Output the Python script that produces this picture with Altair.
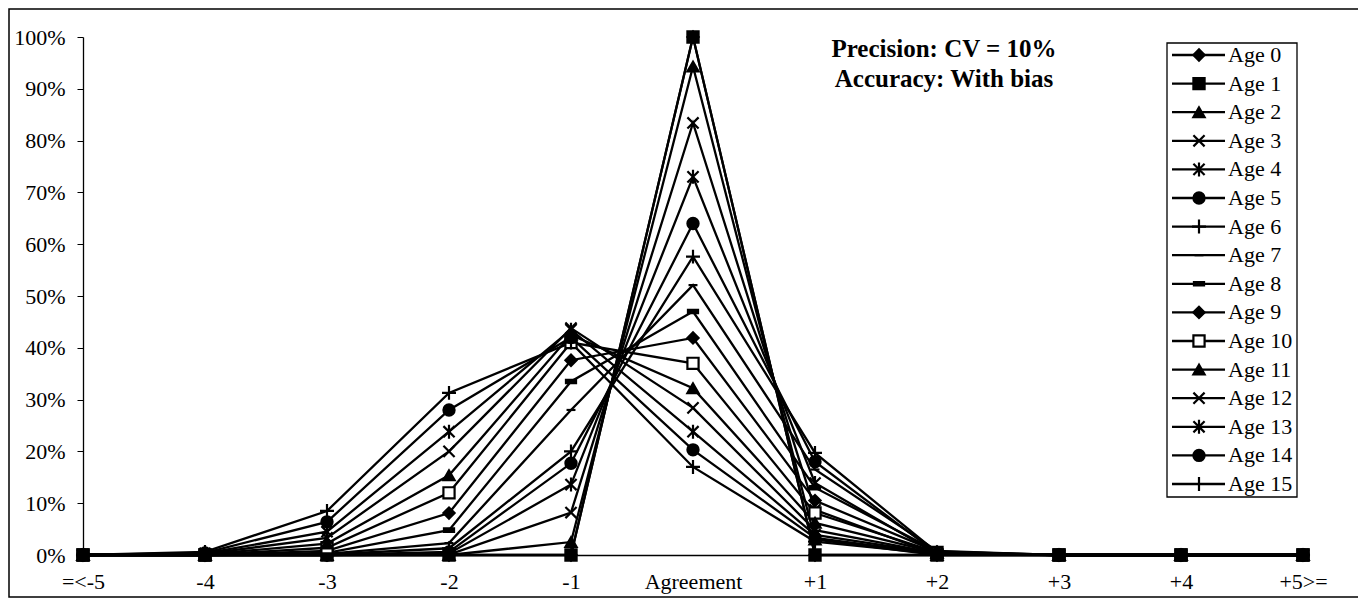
import altair as alt
import pandas as pd

categories = ["=<-5", "-4", "-3", "-2", "-1", "Agreement", "+1", "+2", "+3", "+4", "+5>="]
ages = [f"Age {i}" for i in range(16)]

age0 = [0, 0, 0, 0, 0, 100, 0, 0, 0, 0, 0]
age1 = [0, 0, 0, 0, 0, 100, 0, 0, 0, 0, 0]
age2 = [0, 0, 0, 0, 2.5, 94.3, 3.0, 0, 0, 0, 0]
age3 = [0, 0, 0, 0.1, 8.2, 83.4, 8.7, 0.1, 0, 0, 0]
age4 = [0, 0, 0, 0.3, 13.6, 73.0, 13.9, 0.2, 0, 0, 0]
age5 = [0, 0, 0, 0.6, 17.7, 64.0, 18.0, 0.3, 0, 0, 0]
age6 = [0, 0, 0.1, 1.3, 20.0, 57.6, 19.7, 0.5, 0, 0, 0]
age7 = [0, 0, 0.2, 2.3, 28.0, 52.1, 16.5, 0.8, 0, 0, 0]
age8 = [0, 0, 0.4, 4.8, 33.5, 47.0, 13.0, 0.7, 0, 0, 0]
age9 = [0, 0, 0.8, 8.1, 37.6, 41.9, 10.5, 0.6, 0, 0, 0]
age10 = [0, 0, 1.4, 12.0, 41.0, 37.0, 8.1, 0.5, 0, 0, 0]
age11 = [0, 0.1, 2.2, 15.4, 42.5, 32.2, 6.2, 0.4, 0, 0, 0]
age12 = [0, 0.2, 3.3, 20.0, 43.8, 28.4, 4.8, 0.3, 0, 0, 0]
age13 = [0, 0.3, 4.5, 23.8, 43.5, 23.8, 3.9, 0.3, 0, 0, 0]
age14 = [0, 0.4, 6.4, 28.0, 42.0, 20.3, 3.3, 0.2, 0, 0, 0]
age15 = [0, 0.6, 8.5, 31.3, 41.0, 17.0, 2.6, 0.2, 0, 0, 0]
series_values = [age0, age1, age2, age3, age4, age5, age6, age7, age8, age9,
                 age10, age11, age12, age13, age14, age15]

title_lines = ["Precision: CV = 10%", "Accuracy: With bias"]

X_PATH = "M-1,-1L1,1M-1,1L1,-1"
AST_PATH = "M-1,-1L1,1M-1,1L1,-1M0,-1.25L0,1.25"
PLUS_PATH = "M-1.25,0L1.25,0M0,-1.25L0,1.25"
DASH_PATH = "M-0.8,0L0.8,0"
BAR_PATH = "M-0.9,-0.3L0.9,-0.3L0.9,0.3L-0.9,0.3Z"
shapes = ["diamond", "square", "triangle-up", X_PATH, AST_PATH, "circle", PLUS_PATH,
          DASH_PATH, BAR_PATH, "diamond", "square", "triangle-up", X_PATH, AST_PATH,
          "circle", PLUS_PATH]
fills = ["black"] * 16
fills[10] = "white"

rows = []
for a, vals in zip(ages, series_values):
    for i, v in enumerate(vals):
        rows.append({"series": a, "idx": i, "value": v})
df = pd.DataFrame(rows)
legend_df = pd.DataFrame({"series": ages})

FONT = "Liberation Serif"
label_expr = "[" + ",".join("'" + c + "'" for c in categories) + "][datum.value]"

shape_enc = alt.Shape("series:N", scale=alt.Scale(domain=ages, range=shapes), legend=None)
fill_enc = alt.Fill("series:N", scale=alt.Scale(domain=ages, range=fills), legend=None)

x_enc = alt.X("idx:Q", scale=alt.Scale(domain=[0, len(categories) - 1], nice=False),
              axis=alt.Axis(values=list(range(len(categories))), labelExpr=label_expr,
                            title=None, grid=False, ticks=False, tickSize=0,
                            labelPadding=16, labelFont=FONT, labelFontSize=22,
                            labelColor="black", domainColor="black", domainWidth=1.3,
                            labelFlush=False, labelOverlap=False))
y_enc = alt.Y("value:Q", scale=alt.Scale(domain=[0, 100], nice=False),
              axis=alt.Axis(values=list(range(0, 101, 10)), labelExpr="datum.value + '%'",
                            title=None, grid=False, tickSize=6, tickColor="black",
                            labelPadding=12, labelFont=FONT, labelFontSize=22,
                            labelColor="black", domainColor="black", domainWidth=1.3))

base = alt.Chart(df)
lines = base.mark_line(color="black", strokeWidth=2.3).encode(
    x=x_enc, y=y_enc, detail="series:N")
points = base.mark_point(filled=False, stroke="black", strokeWidth=2.2, opacity=1,
                         size=125).encode(
    x=x_enc, y=y_enc, shape=shape_enc, fill=fill_enc)

main = alt.layer(lines, points)

# legend
leg_y = alt.Y("series:N", sort=ages,
              scale=alt.Scale(type="point", range=[18, 447], padding=0), axis=None)
leg_base = alt.Chart(legend_df)
leg_box = alt.Chart(legend_df.head(1)).mark_rect(fill="white", stroke="black",
                                                  strokeWidth=1.3).encode(
    x=alt.value(1084), x2=alt.value(1214), y=alt.value(6), y2=alt.value(460))
leg_lines = leg_base.mark_rule(color="black", strokeWidth=2.3).encode(
    x=alt.value(1089), x2=alt.value(1142), y=leg_y)
leg_points = leg_base.mark_point(filled=False, stroke="black", strokeWidth=2.2,
                                 opacity=1, size=125).encode(
    x=alt.value(1116), y=leg_y, shape=shape_enc, fill=fill_enc)
leg_text = leg_base.mark_text(align="left", baseline="middle", font=FONT,
                              fontSize=22, color="black").encode(
    x=alt.value(1145), y=leg_y, text="series:N")
legend = alt.layer(leg_box, leg_lines, leg_points, leg_text)

title_df = pd.DataFrame({"line": title_lines, "pos": [0, 1]})
title = alt.Chart(title_df).mark_text(align="center", baseline="middle", font=FONT,
                                      fontSize=25, fontWeight="bold",
                                      color="black").encode(
    x=alt.value(861),
    y=alt.Y("pos:O", scale=alt.Scale(type="point", range=[12, 42], padding=0), axis=None),
    text="line:N")

frame = alt.Chart(title_df.head(1)).mark_rect(fill=None, stroke="black",
                                              strokeWidth=1.5).encode(
    x=alt.value(-74), x2=alt.value(1276), y=alt.value(-28), y2=alt.value(560))

chart = alt.layer(main, legend, title, frame).resolve_scale(y="independent").properties(
    width=1220, height=518,
    autosize=alt.AutoSizeParams(type="none"),
    padding={"left": 75, "top": 29, "right": 55, "bottom": 43},
    background="white",
).configure_view(stroke=None)

chart.save("out.html", embed_options={"renderer": "svg", "actions": False})
